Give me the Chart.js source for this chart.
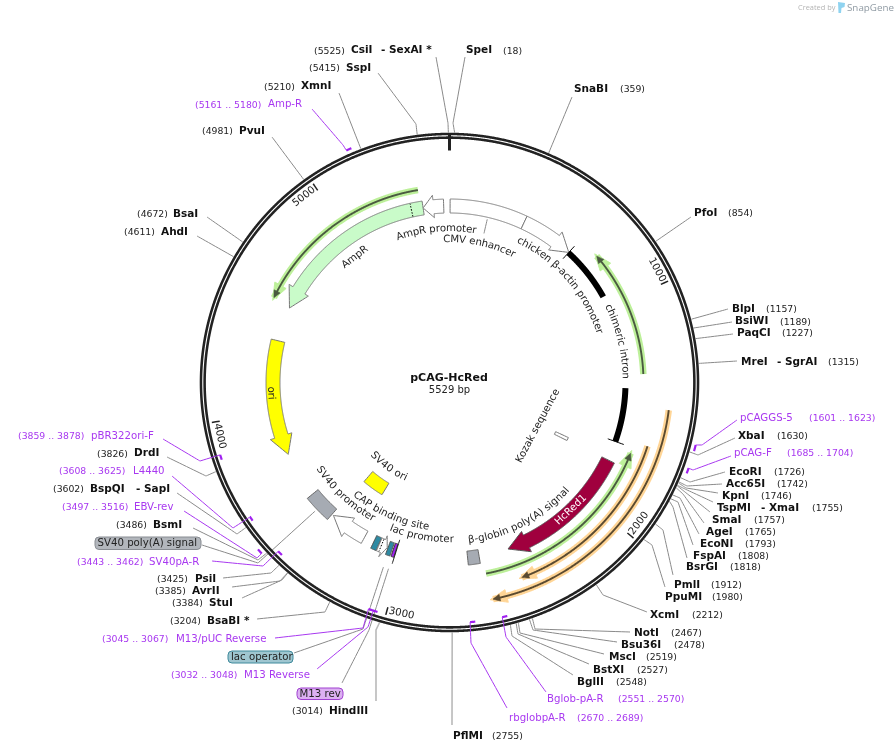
<!DOCTYPE html>
<html>
<head>
<meta charset="utf-8">
<title>pCAG-HcRed</title>
<script src="https://cdn.jsdelivr.net/npm/chart.js@4"></script>
<style>
  html, body { margin: 0; padding: 0; background: #fff; }
  #map { display: block; }
</style>
</head>
<body>
<canvas id="map" width="895" height="752"></canvas>
<script>
// plasmid values, all in bp
const plasmidName = 'pCAG-HcRed';
const plasmidLength = 5529;
const tickValues = [1000, 2000, 3000, 4000, 5000];

const siteNames = ['SpeI', 'SnaBI', 'PfoI', 'BlpI', 'BsiWI', 'PaqCI', 'MreI - SgrAI', 'XbaI', 'EcoRI', 'Acc65I',
  'KpnI', 'TspMI - XmaI', 'SmaI', 'AgeI', 'EcoNI', 'FspAI', 'BsrGI', 'PmlI', 'PpuMI', 'XcmI',
  'NotI', 'Bsu36I', 'MscI', 'BstXI', 'BglII', 'PflMI', 'HindIII', 'BsaBI *', 'StuI', 'AvrII',
  'PsiI', 'BsmI', 'BspQI - SapI', 'DrdI', 'AhdI', 'BsaI', 'PvuI', 'XmnI', 'SspI', 'CsiI - SexAI *'];
const sitePositions = [18, 359, 854, 1157, 1189, 1227, 1315, 1630, 1726, 1742,
  1746, 1755, 1757, 1765, 1793, 1808, 1818, 1912, 1980, 2212,
  2467, 2478, 2519, 2527, 2548, 2755, 3014, 3204, 3384, 3385,
  3425, 3486, 3602, 3826, 4611, 4672, 4981, 5210, 5415, 5525];

const primerNames = ['Amp-R', 'pCAGGS-5', 'pCAG-F', 'Bglob-pA-R', 'rbglobpA-R', 'M13/pUC Reverse', 'M13 Reverse',
  'SV40pA-R', 'EBV-rev', 'L4440', 'pBR322ori-F'];
const primerStarts = [5161, 1601, 1685, 2551, 2670, 3045, 3032, 3443, 3497, 3608, 3859];
const primerEnds = [5180, 1623, 1704, 2570, 2689, 3067, 3048, 3462, 3516, 3625, 3878];

const featureNames = ['CMV enhancer', 'chicken β-actin promoter', 'chimeric intron', 'Kozak sequence', 'HcRed1',
  'β-globin poly(A) signal', 'lac operator', 'M13 rev', 'lac promoter', 'CAP binding site', 'SV40 promoter',
  'SV40 ori', 'SV40 poly(A) signal', 'ori', 'AmpR', 'AmpR promoter'];
const featureStarts = [3, 384, 653, 1764, 1782, 2616, 3056, 3036, 3125, 3127, 3206, 3241, 3405, 4357, 5397, 5500];
const featureEnds = [384, 653, 1683, 1786, 2467, 2674, 3078, 3050, 3082, 3155, 3396, 3391, 3545, 3778, 4530, 5397];

// thin translated arrows inside the ring
const traceStarts = [1344, 2598, 1656, 1493, 5386];
const traceEnds = [758, 1710, 2452, 2590, 4543];

// layout: [nameX, posX, y, leaderX, leaderY, elbowX, elbowY, secondPartX]
const siteLayout = [
  [466, 503, 50.7, 465, 57, 453, 123], [574, 620, 89.3, 572, 97], [694, 728, 213, 691, 217],
  [732, 766, 309, 728, 309], [735, 780, 321.7, 732, 322], [737, 782, 333.5, 733, 334],
  [741, 828, 362, 737, 361, null, null, 777], [738, 777, 436, 735, 438, 698, 455],
  [729, 774, 472, 725, 472, 690, 482], [726, 777, 484, 722, 484, 687, 486],
  [722, 761, 496, 718, 493, 686, 488], [717, 812, 508, 713, 502, 685, 489, 761],
  [712, 754, 520, 710, 512, 685, 492], [706, 745, 532, 704, 523, 683, 494],
  [700, 745, 544, 699, 534, 680, 498], [693, 738, 556, 693, 545, 678, 502],
  [686, 730, 567, 687, 558, 673, 507], [674, 711, 585, 673, 575, 663, 530],
  [665, 712, 597, 665, 587, 652, 545], [650, 692, 615, 647, 612, 603, 595],
  [634, 671, 633, 630, 632, 535, 629], [621, 674, 645, 617, 642, 533, 630],
  [609, 646, 657, 604, 654, 520, 633], [593, 637, 670, 589, 664, 518, 634],
  [577, 616, 682, 573, 675, 512, 636], [453, 492, 736, 452, 725],
  [329, 292, 711, 376, 701, 376, 630], [207, 170, 621, 257, 619, 325, 612],
  [209, 172, 603, 242, 598, 282, 580], [192, 155, 591, 232, 587, 280, 581],
  [195, 157, 579, 223, 578, 271, 573], [153, 116, 525, 193, 528, 258, 560],
  [90, 53, 489, 177, 493, 237, 534, 136], [134, 97, 453.7, 167, 457, 206, 476],
  [161, 124, 232, 197, 236], [173, 137, 214, 207, 217], [239, 202, 131, 272, 137],
  [301, 264, 86.7, 339, 93], [346, 309, 68.5, 378, 73, 416, 124],
  [351, 314, 50.7, 436, 57, 448, 123, 381],
];

// layout: [nameX, posX, y, leaderX, leaderY, elbowX, elbowY, lane radius]
const primerLayout = [
  [268, 195, 104.7, 312, 109, 343, 145, 254], [740, 809, 418, 737, 420, 702, 445, 254],
  [734, 787, 453, 731, 456, 693, 470, 254], [547, 618, 699, 546, 692, 506, 637, 240.5],
  [509, 577, 718, 507, 708, 471, 643, 240.5], [176, 102, 639, 275, 638, 363, 628, 240.5],
  [244, 171, 675, 317, 669, 368, 627, 240.5], [149, 77, 562, 212, 561, 263, 566, 240.5],
  [134, 62, 507, 184, 511, 257, 558, 254], [133, 59, 471, 172, 476, 233, 528, 240.5],
  [91, 18, 436, 163, 439, 200, 461, 240.5],
];

const traceLayout = [[194, 'g'], [194.5, 'g'], [208, 'o'], [221, 'o'], [195, 'g']];
const traceColors = { g: ['#bdf09a', '#4a5a40'], o: ['#ffd596', '#5a4a30'] };

const cx = 449.5;
const cy = 382.5;
const inkLine = '#777';
const siteLine = '#8a8a8a';
const purple = '#a838f0';
const sansFont = '"DejaVu Sans"';
// any non-zero tension keeps chart.js off its x-sorted fast path, which chews up closed curves
const noCurve = 0.0001;

function ringPoint(bp, r) {
  const a = (bp / plasmidLength) * Math.PI * 2;
  return { x: cx + r * Math.sin(a), y: cy - r * Math.cos(a) };
}

function arcPoints(from, to, r) {
  const pts = [];
  const step = from < to ? 4 : -4;
  for (let bp = from; step > 0 ? bp < to : bp > to; bp += step) pts.push(ringPoint(bp, r));
  pts.push(ringPoint(to, r));
  return pts;
}

const datasets = [];

function addLine(data, color, width, extra) {
  datasets.push({ data, showLine: true, borderColor: color, borderWidth: width, pointRadius: 0, fill: false, tension: noCurve, ...extra });
}

function addShape(points, stroke, fillColor, width) {
  const data = [...points, points[0]];
  datasets.push({ data, showLine: true, borderColor: stroke, backgroundColor: fillColor, borderWidth: width, pointRadius: 0, fill: 'shape', tension: noCurve });
}

function block(from, to, stroke, fillColor) {
  addShape([...arcPoints(from, to, 183.5), ...arcPoints(to, from, 169.5)], stroke, fillColor, 1);
}

function arrow(from, to, headBp, fillColor, stroke) {
  const dir = to > from ? 1 : -1;
  const neck = to - dir * headBp;
  addShape([
    ...arcPoints(from, neck, 183.5),
    ringPoint(neck, 188), ringPoint(to, 176.5), ringPoint(neck, 165.5),
    ...arcPoints(neck, from, 169.5),
  ], stroke, fillColor, 1);
}

function traceArrow(from, to, r, kind) {
  const [glow, dark] = traceColors[kind];
  const dir = to > from ? 1 : -1;
  const bpPerPx = plasmidLength / (2 * Math.PI * r);
  addLine(arcPoints(from, to, r), glow, 6.5);
  addShape([ringPoint(to - dir * 14 * bpPerPx, r + 6.5), ringPoint(to + dir * 3 * bpPerPx, r), ringPoint(to - dir * 14 * bpPerPx, r - 6.5)], glow, glow, 1);
  addLine(arcPoints(from, to - dir * 5 * bpPerPx, r), dark, 1.9);
  addShape([ringPoint(to - dir * 7 * bpPerPx, r + 3.4), ringPoint(to, r), ringPoint(to - dir * 7 * bpPerPx, r - 3.4)], dark, dark, 0.6);
}

// leader lines first, the ring covers their feet
siteNames.forEach((name, i) => {
  const [, , , lx, ly, ex, ey] = siteLayout[i];
  const pts = [{ x: lx, y: ly }];
  if (ex != null) pts.push({ x: ex, y: ey });
  pts.push(ringPoint(sitePositions[i], 250));
  const heavy = name === 'PflMI' || name === 'HindIII';
  addLine(pts, heavy ? '#b9b9b9' : siteLine, heavy ? 1.6 : 1);
});

// leaders of the labelled features
const badgeLeaders = [
  ['SV40 poly(A) signal', 186, [{ x: 202, y: 545 }, { x: 258, y: 563 }]],
  ['lac operator', 196, [{ x: 294, y: 653 }, { x: 363, y: 629 }, { x: 370, y: 608 }]],
  ['M13 rev', 196, [{ x: 342, y: 683 }, { x: 369, y: 630 }, { x: 376, y: 608 }]],
];
badgeLeaders.forEach(([name, r, pts]) => {
  const i = featureNames.indexOf(name);
  addLine([...pts, ringPoint((featureStarts[i] + featureEnds[i]) / 2, r)], siteLine, 1);
});
// CMV enhancer label stub
addLine([ringPoint(200, 167.5), ringPoint(200, 153)], siteLine, 1);

// backbone
addLine(arcPoints(0, plasmidLength, 246.7), '#222222', 6.2);
addLine(arcPoints(0, plasmidLength, 246.7), '#ffffff', 1.1);
addLine([ringPoint(0, 249.5), ringPoint(0, 232)], '#222', 3);
tickValues.forEach((bp) => addLine([ringPoint(bp, 241), ringPoint(bp, 233)], '#222', 1.5));

// primers
primerNames.forEach((name, i) => {
  const [, , , lx, ly, ex, ey, lane] = primerLayout[i];
  const foot = lane > 246 ? primerStarts[i] : primerEnds[i];
  addLine([{ x: lx, y: ly }, { x: ex, y: ey }, ringPoint(foot, lane)], purple, 1);
  addLine(arcPoints(primerStarts[i], primerEnds[i], lane), '#a020f0', 2.2);
});

function f(name) {
  const i = featureNames.indexOf(name);
  return [featureStarts[i], featureEnds[i]];
}

traceStarts.forEach((start, i) => traceArrow(start, traceEnds[i], traceLayout[i][0], traceLayout[i][1]));

const [cmvA, cmvB] = f('CMV enhancer');
block(cmvA, cmvB, inkLine, '#ffffff');
const [actA, actB] = f('chicken β-actin promoter');
arrow(actA, actB, 88, '#ffffff', inkLine);

const [intronA, intronB] = f('chimeric intron');
addLine(arcPoints(intronA, 935, 176), '#000', 6);
addLine(arcPoints(1410, intronB, 176), '#000', 6);
addLine([ringPoint(intronA, 168), ringPoint(intronA, 185)], '#000', 1);
addLine([ringPoint(intronB, 168), ringPoint(intronB, 185)], '#000', 1);

const [kozakA, kozakB] = f('Kozak sequence');
addShape([ringPoint(kozakA, 117), ringPoint(kozakA, 131), ringPoint(kozakB, 131), ringPoint(kozakB, 117)], inkLine, '#ffffff', 1);

const [redA, redB] = f('HcRed1');
arrow(redA, redB, 99, '#a0003e', '#555');
const [betaA, betaB] = f('β-globin poly(A) signal');
block(betaA, betaB, '#666', '#a6abb3');

const [svPolyA, svPolyB] = f('SV40 poly(A) signal');
block(svPolyA, svPolyB, '#666', '#a6abb3');
const [svProA, svProB] = f('SV40 promoter');
arrow(svProA, svProB, 94, '#ffffff', inkLine);
const [svOriA, svOriB] = f('SV40 ori');
addShape([...arcPoints(svOriA, svOriB, 117.5), ...arcPoints(svOriB, svOriA, 131)], inkLine, '#ffff00', 1);

const [capA, capB] = f('CAP binding site');
block(capA, capB, '#555', '#2e8aa3');
const [lacA, lacB] = f('lac promoter');
arrow(lacA, lacB, 22, '#ffffff', inkLine);
addLine([ringPoint(lacA - 12, 170), ringPoint(lacA - 12, 183)], '#000', 1, { borderDash: [1.5, 1.5] });
const [opA, opB] = f('lac operator');
block(opA, opB, '#555', '#2e8aa3');
const [m13A, m13B] = f('M13 rev');
block(m13A, m13B, '#333', '#a020f0');
addLine([ringPoint(3034, 165), ringPoint(3034, 190)], '#222', 1);

const [oriA, oriB] = f('ori');
arrow(oriA, oriB, 97, '#ffff00', inkLine);
const [ampA, ampB] = f('AmpR');
arrow(ampA, ampB, 100, '#c9fbc9', inkLine);
addLine([ringPoint(5338, 170), ringPoint(5338, 183)], '#000', 1, { borderDash: [1.5, 1.5] });
const [proA, proB] = f('AmpR promoter');
arrow(proA, proB, 52, '#ffffff', inkLine);

datasets.forEach((d, i) => { d.order = -i; d.clip = false; });

// feature text: [text, angle in degrees, radius]
const featureLabels = [
  ['AmpR promoter', 355, 154], ['CMV enhancer', 12.3, 143], ['chicken β-actin promoter', 48.7, 158],
  ['chimeric intron', 76.3, 176], ['β-globin poly(A) signal', 152.6, 159], ['lac promoter', 190.3, 157],
  ['CAP binding site', 204.3, 146], ['SV40 promoter', 223, 156], ['SV40 ori', 215.8, 105],
];
const straightLabels = [
  ['AmpR', 323, 157, '#222'], ['ori', 266.6, 178.8, '#222'], ['HcRed1', 136.4, 176, '#fff'],
];

function textAt(ctx, text, x, y, font, color) {
  ctx.font = font;
  ctx.fillStyle = color;
  ctx.fillText(text, x, y);
}

function rotatedText(ctx, text, deg, r, font, color) {
  const rad = (deg * Math.PI) / 180;
  const flip = deg >= 90 && deg < 270;
  ctx.save();
  ctx.translate(cx + r * Math.sin(rad), cy - r * Math.cos(rad));
  ctx.rotate(flip ? rad - Math.PI : rad);
  ctx.textAlign = 'center';
  textAt(ctx, text, 0, 0, font, color);
  ctx.restore();
}

function curvedText(ctx, text, deg, r, font, color) {
  const rad = (deg * Math.PI) / 180;
  const flip = deg >= 90 && deg < 270;
  ctx.font = font;
  const total = ctx.measureText(text).width;
  for (let i = 0; i < text.length; i += 1) {
    const w = ctx.measureText(text[i]).width;
    const along = ctx.measureText(text.slice(0, i)).width + w / 2 - total / 2;
    const a = flip ? rad - along / r : rad + along / r;
    ctx.save();
    ctx.translate(cx + r * Math.sin(a), cy - r * Math.cos(a));
    ctx.rotate(flip ? a - Math.PI : a);
    ctx.textAlign = 'center';
    textAt(ctx, text[i], 0, 0, font, color);
    ctx.restore();
  }
}

function badge(ctx, text, x0, x1, y0, y1, textX, fillColor, stroke) {
  ctx.beginPath();
  ctx.roundRect(x0, y0, x1 - x0, y1 - y0, 4);
  ctx.fillStyle = fillColor;
  ctx.fill();
  ctx.strokeStyle = stroke;
  ctx.lineWidth = 1;
  ctx.stroke();
  textAt(ctx, text, textX, (y0 + y1) / 2 + 0.3, `10.2px ${sansFont}`, '#222');
}

const labelPlugin = {
  id: 'mapLabels',
  afterDatasetsDraw(chart) {
    const ctx = chart.ctx;
    const nameFont = `bold 10.5px ${sansFont}`;
    const posFont = `9.3px ${sansFont}`;
    const primerFont = `10.2px ${sansFont}`;
    ctx.save();
    ctx.textBaseline = 'middle';
    ctx.textAlign = 'left';

    siteNames.forEach((name, i) => {
      const [nameX, posX, y, , , , , secondX] = siteLayout[i];
      textAt(ctx, `(${sitePositions[i]})`, posX, y + 0.5, posFont, '#222');
      if (secondX != null) {
        const [a, b] = name.split(' - ');
        textAt(ctx, a, nameX, y, nameFont, '#111');
        textAt(ctx, `- ${b}`, secondX, y, nameFont, '#111');
      } else {
        textAt(ctx, name, nameX, y, nameFont, '#111');
      }
    });

    primerNames.forEach((name, i) => {
      const [nameX, posX, y] = primerLayout[i];
      textAt(ctx, name, nameX, y, primerFont, purple);
      textAt(ctx, `(${primerStarts[i]} .. ${primerEnds[i]})`, posX, y + 0.5, posFont, purple);
    });

    badge(ctx, 'SV40 poly(A) signal', 95, 201, 537, 549.5, 97.5, '#b2b6bc', '#888c92');
    badge(ctx, 'lac operator', 228, 293, 651, 663, 231, '#9fc6d0', '#3f8a9c');
    badge(ctx, 'M13 rev', 297, 343, 688, 699.5, 299.5, '#dcb0f2', '#a040d0');

    featureLabels.forEach(([text, deg, r]) => curvedText(ctx, text, deg, r, primerFont, '#222'));
    straightLabels.forEach(([text, deg, r, color]) => rotatedText(ctx, text, deg, r, primerFont, color));

    // Kozak reads nearly straight
    ctx.save();
    ctx.translate(538, 426);
    ctx.rotate((-62 * Math.PI) / 180);
    ctx.textAlign = 'center';
    textAt(ctx, 'Kozak sequence', 0, 0, primerFont, '#222');
    ctx.restore();

    tickValues.forEach((bp) => {
      const deg = (bp / plasmidLength) * 360 - 3.6;
      rotatedText(ctx, String(bp), deg, 236, primerFont, '#222');
    });

    ctx.textAlign = 'center';
    textAt(ctx, plasmidName, 449, 378, `bold 11px ${sansFont}`, '#111');
    textAt(ctx, `${plasmidLength} bp`, 449.5, 390, `10px ${sansFont}`, '#222');

    // watermark
    ctx.textAlign = 'left';
    textAt(ctx, 'Created by', 798, 8, '7.4px "Open Sans"', '#b4b4b4');
    ctx.fillStyle = '#8fd3f0';
    ctx.beginPath();
    ctx.moveTo(838, 2);
    ctx.lineTo(845, 3);
    ctx.lineTo(844.5, 7);
    ctx.lineTo(841.5, 8);
    ctx.lineTo(841, 13);
    ctx.lineTo(838.5, 13);
    ctx.closePath();
    ctx.fill();
    textAt(ctx, 'SnapGene', 847, 8, '9.8px "Open Sans"', '#8f9aa3');
    ctx.restore();
  },
};

new Chart(document.getElementById('map'), {
  type: 'scatter',
  data: { datasets },
  options: {
    responsive: false,
    animation: false,
    events: [],
    layout: { padding: 0 },
    plugins: { legend: { display: false }, tooltip: { enabled: false } },
    scales: {
      x: { type: 'linear', min: 0, max: 895, display: false },
      y: { type: 'linear', min: 0, max: 752, reverse: true, display: false },
    },
  },
  plugins: [labelPlugin],
});
</script>
</body>
</html>
